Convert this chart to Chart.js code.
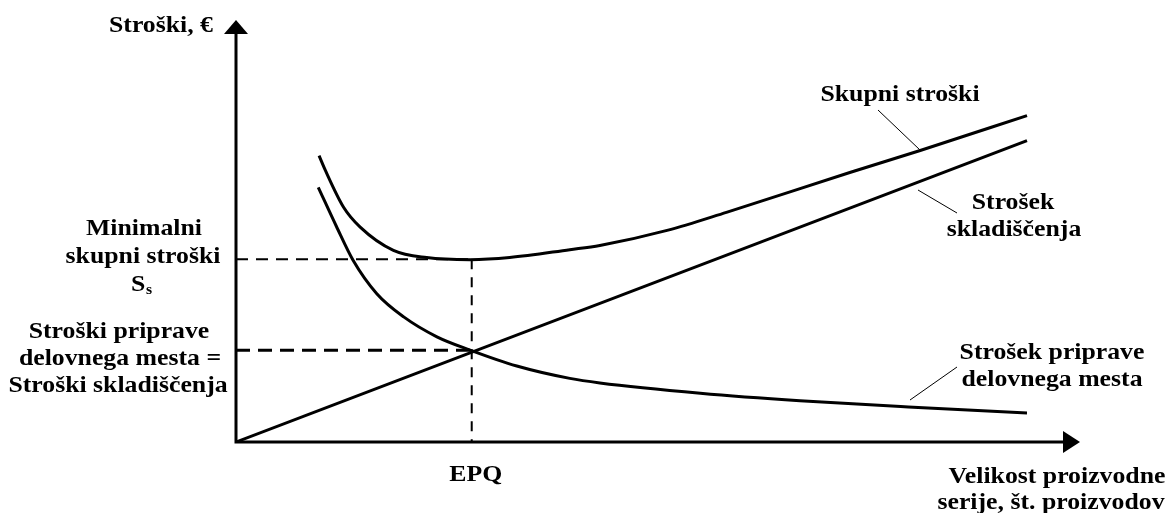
<!DOCTYPE html>
<html lang="sl">
<head>
    <meta charset="UTF-8">
    <title>EPQ - stroški</title>
    <script src="https://cdn.jsdelivr.net/npm/chart.js"></script>
    <style>
        body { margin: 0; background: #ffffff; }
        #wrap { width: 1168px; height: 513px; }
    </style>
</head>
<body>
    <div id="wrap"><canvas id="grafico" width="1168" height="513"></canvas></div>

    <script>
        // podatki, odčitani s slike (x = velikost serije, y = stroški)
        const setupX = [1.04, 1.27, 1.48, 1.78, 2.12, 2.54, 2.96, 3.55, 4.22, 4.60, 5.87, 7.13, 8.50, 10];
        const setupY = [8.45, 7.15, 6.03, 4.92, 4.15, 3.49, 3.05, 2.52, 2.11, 1.96, 1.62, 1.37, 1.16, 0.96];

        const totalX = [1.05, 1.13, 1.36, 1.57, 1.99, 2.41, 2.96, 3.46, 4.22, 4.60, 5.45, 6.20, 7.76, 8.65, 10];
        const totalY = [9.50, 9.01, 7.79, 7.13, 6.36, 6.12, 6.05, 6.12, 6.38, 6.52, 7.02, 7.62, 8.94, 9.67, 10.83];

        const storageX = [0, 10];
        const storageY = [0, 10];

        const epq = 2.98;
        const minTotal = 6.06;
        const crossCost = 3.04;

        const xMax = 10.67;
        const yMax = 14;

        const toPoints = (xs, ys) => xs.map((x, i) => ({ x: x, y: ys[i] }));

        const FONT = 'bold 23px "Liberation Serif", "Times New Roman", serif';
        const STRETCH = 1.12;

        function label(ctx, text, x, y, align) {
            ctx.save();
            ctx.translate(x, y);
            ctx.scale(STRETCH, 1);
            ctx.textAlign = align || 'center';
            ctx.fillText(text, 0, 0);
            ctx.restore();
        }

        // osi s puščicami in napisi
        const drawing = {
            id: 'drawing',
            afterDraw(chart) {
                const ctx = chart.ctx;
                const xs = chart.scales.x, ys = chart.scales.y;
                const x0 = xs.getPixelForValue(0), y0 = ys.getPixelForValue(0);
                const xEnd = xs.getPixelForValue(xMax), yTop = ys.getPixelForValue(yMax);
                ctx.save();
                ctx.strokeStyle = '#000';
                ctx.fillStyle = '#000';
                ctx.lineWidth = 3;
                ctx.beginPath();
                ctx.moveTo(x0, yTop + 12);
                ctx.lineTo(x0, y0);
                ctx.lineTo(xEnd - 14, y0);
                ctx.stroke();
                // puščici
                ctx.beginPath();
                ctx.moveTo(x0, yTop);
                ctx.lineTo(x0 - 12, yTop + 14);
                ctx.lineTo(x0 + 12, yTop + 14);
                ctx.closePath();
                ctx.fill();
                ctx.beginPath();
                ctx.moveTo(xEnd, y0);
                ctx.lineTo(xEnd - 17, y0 - 11);
                ctx.lineTo(xEnd - 17, y0 + 11);
                ctx.closePath();
                ctx.fill();

                // kazalne črte
                ctx.lineWidth = 1;
                ctx.beginPath();
                ctx.moveTo(878, 110); ctx.lineTo(920, 150);
                ctx.moveTo(918, 190); ctx.lineTo(957, 213);
                ctx.moveTo(910, 400); ctx.lineTo(957, 367);
                ctx.stroke();

                ctx.font = FONT;
                ctx.textBaseline = 'middle';
                const texts = [
                    ['Minimalni', 144, 229],
                    ['skupni stroški', 143, 257],
                    ['Stroški priprave', 119, 332],
                    ['delovnega mesta =', 120, 359],
                    ['Stroški skladiščenja', 118, 386],
                    ['Skupni stroški', 900, 95],
                    ['Strošek', 1013, 203],
                    ['skladiščenja', 1014, 230],
                    ['Strošek priprave', 1052, 353],
                    ['delovnega mesta', 1052, 380],
                    ['EPQ', xs.getPixelForValue(epq) + 4, 475],
                    ['Velikost proizvodne', 1057, 477],
                    ['serije, št. proizvodov', 1051, 503]
                ];
                texts.forEach(t => label(ctx, t[0], t[1], t[2]));
                label(ctx, 'Stroški, €', 213, 26, 'right');
                // S s podpisanim s
                label(ctx, 'S', 131, 285, 'left');
                ctx.font = 'bold 14px "Liberation Serif", serif';
                label(ctx, 's', 146, 290, 'left');
                ctx.restore();
            }
        };

        const ctx = document.getElementById('grafico').getContext('2d');
        new Chart(ctx, {
            type: 'line',
            data: {
                datasets: [
                    {
                        label: 'Skupni stroški',
                        data: toPoints(totalX, totalY),
                        borderColor: '#000', borderWidth: 3,
                        cubicInterpolationMode: 'monotone', pointRadius: 0
                    },
                    {
                        label: 'Strošek priprave delovnega mesta',
                        data: toPoints(setupX, setupY),
                        borderColor: '#000', borderWidth: 3,
                        cubicInterpolationMode: 'monotone', pointRadius: 0
                    },
                    {
                        label: 'Strošek skladiščenja',
                        data: toPoints(storageX, storageY),
                        borderColor: '#000', borderWidth: 3, pointRadius: 0
                    },
                    {
                        label: 'min',
                        data: [{ x: 0, y: minTotal }, { x: epq, y: minTotal }],
                        borderColor: '#000', borderWidth: 2, borderDash: [12, 8], pointRadius: 0
                    },
                    {
                        label: 'presecisce',
                        data: [{ x: 0, y: crossCost }, { x: epq, y: crossCost }],
                        borderColor: '#000', borderWidth: 3, borderDash: [14, 8], pointRadius: 0
                    },
                    {
                        label: 'EPQ',
                        data: [{ x: epq, y: minTotal }, { x: epq, y: 0 }],
                        borderColor: '#000', borderWidth: 2, borderDash: [10, 8], pointRadius: 0
                    }
                ]
            },
            options: {
                responsive: false,
                animation: false,
                layout: { padding: { left: 236, right: 88, top: 20, bottom: 71 } },
                plugins: { legend: { display: false }, tooltip: { enabled: false } },
                scales: {
                    x: { type: 'linear', min: 0, max: xMax, display: false },
                    y: { type: 'linear', min: 0, max: yMax, display: false }
                }
            },
            plugins: [drawing]
        });
    </script>
</body>
</html>
